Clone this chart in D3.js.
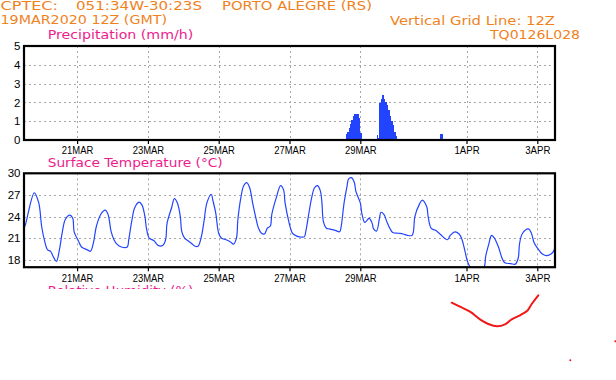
<!DOCTYPE html>
<html><head><meta charset="utf-8">
<script src="https://cdn.jsdelivr.net/npm/d3@7"></script>
<style>body{margin:0;background:#fff}svg{display:block}</style>
</head><body>
<script>
// ---------- data ----------
const startTime = "2020-03-19T12:00:00Z";
const endTime = "2020-04-03T12:00:00Z";
const dateTicks = ["2020-03-21","2020-03-23","2020-03-25","2020-03-27","2020-03-29","2020-04-01","2020-04-03"];
const precipTicks = [0,1,2,3,4,5];
const tempTicks = [18,21,24,27,30];

// hours after start, surface temperature (°C)
const tempHours = [0,1,7,10,12,14,16,18,20,22,24,26,28,31,33,34,37,39,43,45,47,49,52,55,57,59,61,63,66,70,71,73,75,78,80,82,83,85,88,90,91,94,96,97,100,102,104,106,107,109,111,114,116,118,120,122,124,127,128,130,132,134,137,140,142,144,145,147,149,151,153,155,157,159,161,163,165,167,168,171,174,176,177,180,181,182,185,187,190,191,193,195,197,199,201,202,203,205,207,211,214,215,217,219,220,222,224,225,228,229,231,233,234,236,237,239,241,242,244,246,248,250,254,257,260,263,264,265,268,270,273,274,276,279,282,287,289,292,295,297,299,301,307,312,313,315,317,319,322,324,326,330,333,335,336,338,342,344,346,349,351,354,357,359,360];
const tempValues = [22.4,22.9,27.3,25.9,22.6,20.6,19.4,19.2,18.4,17.8,19.4,21.9,23.6,24.2,23.8,21.9,20.6,19.8,19.4,19.2,20.3,22.6,24.3,24.9,24.3,22.0,20.8,20.2,19.8,19.8,20.8,23.3,25.2,26.0,25.6,24.0,22.4,21.0,20.7,20.2,20.0,20.0,20.8,23.1,25.2,26.5,25.9,24.0,21.9,21.0,20.7,20.2,19.9,19.9,21.0,23.3,25.9,27.1,26.3,24.5,21.7,21.0,20.8,20.5,20.2,21.0,23.6,26.6,28.3,28.7,28.0,25.9,24.0,22.4,21.7,21.6,22.4,22.7,24.3,26.6,28.3,27.7,25.9,22.9,22.2,21.7,21.3,21.2,21.2,21.9,24.3,26.6,28.0,28.3,27.5,25.9,23.3,22.4,22.3,22.1,21.9,22.6,25.9,28.2,29.2,29.4,28.7,27.5,25.9,24.5,23.2,23.6,23.8,23.1,22.3,22.0,23.8,24.6,24.3,23.3,22.4,21.8,21.7,21.6,21.4,21.4,21.9,24.0,25.7,26.3,25.4,24.0,22.4,22.1,21.6,20.8,21.4,21.9,21.6,20.8,19.2,17.6,15.8,17.0,18.5,20.1,21.4,21.0,19.6,18.3,17.6,17.5,17.4,18.2,20.3,21.7,22.3,21.7,20.3,19.4,18.9,18.6,18.8,19.2,19.8];

// hours after start, precipitation (mm/h)
const precipHours = [145,156,157,158,159,160,161,218,219,220,221,222,223,224,225,226,227,228,239,240,241,242,243,244,245,246,247,248,249,250,251,252,282,283];
const precipValues = [0.06,0.06,0.06,0.06,0.06,0.06,0.06,0.30,0.44,0.62,0.85,1.06,1.29,1.40,1.40,1.40,1.15,0.35,0.24,0.10,1.95,2.2,2.37,2.2,2.02,1.84,1.62,1.3,1.0,0.8,0.45,0.2,0.3,0.3];

// ---------- layout ----------
const W = 616, H = 380;
const orange = "#f0821e", pink = "#ec1c8c", blue = "#2244ff";
const svg = d3.select("body").append("svg").attr("width", W).attr("height", H)
  .style("background", "#fff");

const t0 = new Date(startTime);
const toDate = h => new Date(t0.getTime() + h * 3600e3);
const x = d3.scaleUtc().domain([t0, new Date(endTime)]).range([24, 555]);
const tickDates = dateTicks.map(s => new Date(s + "T00:00:00Z"));
const fmt = d => d3.utcFormat("%-d%b")(d).toUpperCase();

const P = {top: 46, bottom: 140};
const T = {top: 173.3, bottom: 267.2};
const yP = d3.scaleLinear().domain([0, 5]).range([P.bottom, P.top]);
const yT = d3.scaleLinear().domain([17, 30]).range([T.bottom, T.top]);

const defs = svg.append("defs");
defs.append("clipPath").attr("id", "clipP").append("rect")
  .attr("x", 24).attr("y", P.top).attr("width", 531).attr("height", P.bottom - P.top);
defs.append("clipPath").attr("id", "clipT").append("rect")
  .attr("x", 24).attr("y", T.top).attr("width", 531).attr("height", T.bottom - T.top);
defs.append("clipPath").attr("id", "clipRH").append("rect")
  .attr("x", 0).attr("y", 280).attr("width", 300).attr("height", 9);

// ---------- header ----------
function txt(s, xx, yy, color, len, size) {
  const t = svg.append("text").attr("x", xx).attr("y", yy).text(s)
    .attr("fill", color).style("font-family", "DejaVu Sans, sans-serif")
    .style("font-size", (size || 12.5) + "px");
  if (len) t.attr("textLength", len).attr("lengthAdjust", "spacingAndGlyphs");
  return t;
}
txt("CPTEC:", 0.5, 10.3, orange, 57.5, 12);
txt("051:34W-30:23S", 76, 10.3, orange, 126, 12);
txt("PORTO ALEGRE (RS)", 222, 10.3, orange, 150, 12);
txt("19MAR2020 12Z (GMT)", 0.5, 24, orange, 166.5, 12);
txt("Vertical Grid Line: 12Z", 390, 25, orange, 165);
txt("TQ0126L028", 490, 38.5, orange, 90);
txt("Precipitation (mm/h)", 47.7, 39, pink, 145.6);
txt("Surface Temperature (°C)", 47.7, 166.5, pink, 175);
txt("Relative Humidity (%)", 47.7, 294.5, pink, 145.6).attr("clip-path", "url(#clipRH)");

// ---------- grids ----------
function grid(top, bottom, yScale, vals) {
  const g = svg.append("g").attr("stroke", "#a6a6a6").attr("stroke-width", 1)
    .attr("stroke-dasharray", "2,3");
  g.selectAll(".v").data(tickDates).join("line")
    .attr("x1", d => Math.round(x(d)) + 0.5).attr("x2", d => Math.round(x(d)) + 0.5)
    .attr("y1", top).attr("y2", bottom);
  g.selectAll(".h").data(vals).join("line")
    .attr("x1", 24).attr("x2", 555)
    .attr("y1", d => Math.round(yScale(d)) + 0.5).attr("y2", d => Math.round(yScale(d)) + 0.5);
}
grid(P.top, P.bottom, yP, [1, 2, 3, 4]);
grid(T.top, T.bottom, yT, [18, 21, 24, 27]);

// ---------- precipitation bars ----------
svg.append("g").attr("clip-path", "url(#clipP)")
  .selectAll("rect").data(precipHours.map((h, i) => ({h, v: precipValues[i]}))).join("rect")
  .attr("x", d => x(toDate(d.h)))
  .attr("width", d => x(toDate(d.h + 1)) - x(toDate(d.h)))
  .attr("y", d => yP(d.v))
  .attr("height", d => yP(0) - yP(d.v))
  .attr("fill", blue).attr("shape-rendering", "crispEdges");

// ---------- temperature line ----------
const tData = tempHours.map((h, i) => ({t: toDate(h), v: tempValues[i]}));
svg.append("path").datum(tData).attr("clip-path", "url(#clipT)")
  .attr("d", d3.line().x(d => x(d.t)).y(d => yT(d.v)).curve(d3.curveCatmullRom.alpha(0.5)))
  .attr("fill", "none").attr("stroke", blue).attr("stroke-width", 1.2);

// ---------- axes & frames ----------
function axes(top, bottom, yScale, ticks, labelY) {
  const gx = svg.append("g").attr("transform", `translate(0,${bottom})`)
    .call(d3.axisBottom(x).tickValues(tickDates).tickFormat(fmt).tickSize(4).tickPadding(3));
  gx.select(".domain").remove();
  gx.selectAll("line").attr("stroke", "#000").attr("stroke-width", 1.2);
  gx.selectAll("text").attr("y", labelY - bottom).attr("dy", null)
    .attr("fill", "#000").style("font-family", "Liberation Sans, Arial, sans-serif")
    .style("font-size", "11px")
    .attr("textLength", d => fmt(d).length * 6.3)
    .attr("lengthAdjust", "spacingAndGlyphs");
  const gy = svg.append("g").attr("transform", "translate(24,0)")
    .call(d3.axisLeft(yScale).tickValues(ticks).tickFormat(d3.format("d")).tickSize(0).tickPadding(3.5));
  gy.select(".domain").remove();
  gy.selectAll("text").attr("fill", "#000")
    .style("font-family", "Liberation Sans, Arial, sans-serif").style("font-size", "11.5px");
  svg.append("rect").attr("x", 24).attr("y", top).attr("width", 531).attr("height", bottom - top)
    .attr("fill", "none").attr("stroke", "#000").attr("stroke-width", 2.2);
}
axes(P.top, P.bottom, yP, precipTicks, 154);
axes(T.top, T.bottom, yT, tempTicks, 281.8);

// ---------- red hand-drawn annotation ----------
const scribble = [[451.7,302.7],[460,306.7],[470,311.7],[480,319.3],[488.3,324],[497.3,326.3],[505,324.3],[511.7,319.3],[520,315.3],[527.3,310.7],[531.7,304],[538.3,295.3]];
svg.append("path").attr("d", d3.line().curve(d3.curveCatmullRom)(scribble))
  .attr("fill", "none").attr("stroke", "#f01818").attr("stroke-width", 2).attr("stroke-linecap", "round");
svg.selectAll(".dot").data([[570.3,360.3],[615.3,341.3]]).join("circle")
  .attr("cx", d => d[0]).attr("cy", d => d[1]).attr("r", 1).attr("fill", "#f01818");
</script>
</body></html>
